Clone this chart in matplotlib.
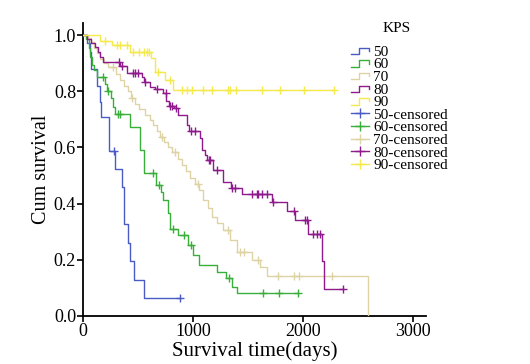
import numpy as np
import matplotlib
matplotlib.use("Agg")
import matplotlib.pyplot as plt
from matplotlib.lines import Line2D
from matplotlib.legend_handler import HandlerBase

plt.rcParams['font.family'] = ['Liberation Serif', 'DejaVu Serif']

# ---------------- data ----------------
groups = ["50", "60", "70", "80", "90"]
colors = ["#4a5cc4", "#3aae3a", "#ddd3a4", "#8e1a8c", "#f5ea4c"]

t50 = [40, 60, 75, 130, 150, 164, 236, 294, 355, 370, 406, 425, 466, 557]
s50 = [0.97, 0.94, 0.88, 0.82, 0.76, 0.708, 0.588, 0.523, 0.458, 0.327, 0.261, 0.196, 0.128, 0.063]
c50 = [282, 882]

t60 = [25, 50, 65, 80, 100, 130, 200, 215, 250, 270, 290, 427, 518, 555, 664, 709, 730,
       775, 791, 866, 957, 1003, 1057, 1215, 1297, 1352, 1397]
s60 = [0.985, 0.955, 0.92, 0.895, 0.875, 0.85, 0.825, 0.80, 0.775, 0.745, 0.72, 0.674, 0.59,
       0.51, 0.466, 0.44, 0.413, 0.367, 0.31, 0.288, 0.253, 0.217, 0.181, 0.157, 0.137, 0.104, 0.081]
c60 = [182, 227, 318, 336, 639, 694, 821, 921, 982, 1327, 1639, 1784, 1957]

t70 = [45, 73, 100, 127, 155, 191, 227, 300, 336, 373, 409, 436, 473, 509, 564, 609, 636, 673,
       700, 736, 775, 809, 864, 897, 936, 973, 1018, 1057, 1094, 1139, 1170, 1218, 1275, 1336,
       1397, 1533, 1609, 1670, 2593]
s70 = [0.99, 0.975, 0.955, 0.935, 0.915, 0.90, 0.885, 0.86, 0.84, 0.82, 0.80, 0.775, 0.755,
       0.735, 0.715, 0.698, 0.68, 0.66, 0.638, 0.62, 0.602, 0.585, 0.56, 0.537, 0.515, 0.49,
       0.47, 0.448, 0.413, 0.383, 0.353, 0.33, 0.306, 0.27, 0.229, 0.199, 0.175, 0.142, 0.0]
c70 = [275, 443, 718, 836, 1048, 1321, 1427, 1466, 1594, 1770, 1921, 1966, 2261]

t80 = [34, 73, 109, 136, 155, 185, 336, 397, 534, 555, 609, 654, 727, 755, 782, 827, 866, 943,
       964, 1064, 1082, 1109, 1127, 1185, 1275, 1345, 1443, 1715, 1852, 1927, 2048, 2170, 2191]
s80 = [0.985, 0.97, 0.958, 0.94, 0.923, 0.903, 0.888, 0.866, 0.851, 0.834, 0.816, 0.807,
       0.795, 0.765, 0.748, 0.739, 0.715, 0.68, 0.66, 0.632, 0.59, 0.573, 0.555, 0.52, 0.478,
       0.454, 0.434, 0.407, 0.372, 0.34, 0.292, 0.195, 0.096]
c80 = [330, 352, 455, 477, 500, 564, 670, 750, 791, 809, 845, 982, 1018, 1141, 1155, 1215,
       1352, 1382, 1533, 1584, 1594, 1624, 1670, 1727, 1918, 2018, 2036, 2094, 2124, 2150, 2363]

t90 = [155, 264, 430, 618, 655, 745, 821]
s90 = [0.977, 0.963, 0.94, 0.917, 0.87, 0.84, 0.805]
c90 = [203, 306, 339, 400, 457, 506, 552, 582, 600, 685, 791, 897, 943, 988, 1094, 1170,
       1321, 1336, 1391, 1624, 1791, 2009, 2282]

times = [t50, t60, t70, t80, t90]
survs = [s50, s60, s70, s80, s90]
cens = [c50, c60, c70, c80, c90]

xticks = [0, 1000, 2000, 3000]
yticks = [0.0, 0.2, 0.4, 0.6, 0.8, 1.0]

# ---------------- figure ----------------
W, H = 530, 364
fig = plt.figure(figsize=(W / 100, H / 100), dpi=100)
ax = fig.add_axes([83 / W, 1 - 316 / H, (426 - 83) / W, (316 - 23) / H])


def surv_at(t_ev, s_ev, t):
    t_ev = np.asarray(t_ev)
    idx = np.searchsorted(t_ev, t, side='right') - 1
    return 1.0 if idx < 0 else s_ev[idx]


line_handles = []
cens_handles = []
for g, col, te, se, ce in zip(groups, colors, times, survs, cens):
    xs = [0] + list(te)
    ys = [1.0] + list(se)
    last_c = max(ce) if ce else 0
    if last_c > xs[-1]:
        xs.append(last_c)
        ys.append(ys[-1])
    ln, = ax.step(xs, ys, where='post', color=col, lw=1.0, zorder=3)
    cy = [surv_at(te, se, c) for c in ce]
    ax.plot(ce, cy, linestyle='none', marker='+', color=col, ms=6, mew=1.0, zorder=4)
    line_handles.append(Line2D([], [], color=col, lw=1.0))
    cens_handles.append(Line2D([], [], color=col, lw=1.0, marker='+', ms=7, mew=1.0))

ax.set_xlim(0, 3118)
ax.set_ylim(0, (316 - 23) / 281)
ax.set_xticks(xticks)
ax.set_yticks(yticks)
ax.set_yticklabels([f"{v:.1f}" for v in yticks])
for s in ['top', 'right']:
    ax.spines[s].set_visible(False)
for s in ['left', 'bottom']:
    ax.spines[s].set_linewidth(1.3)
ax.tick_params(direction='out', length=4, width=1.2, labelsize=13, pad=1)
ax.set_xlabel("Survival time(days)", fontsize=15, labelpad=1)
ax.set_ylabel("Cum survival", fontsize=14.5, labelpad=2)


class StepHandler(HandlerBase):
    def create_artists(self, legend, orig_handle, xdescent, ydescent, width, height, fontsize, trans):
        x0 = -xdescent
        y0 = -ydescent
        xs = [x0, x0 + width * 0.45, x0 + width * 0.45, x0 + width, x0 + width]
        ys = [y0 + height * 0.15, y0 + height * 0.15, y0 + height * 0.75, y0 + height * 0.75, y0 + height * 0.45]
        l = Line2D(xs, ys, color=orig_handle.get_color(), lw=1.0, transform=trans)
        return [l]


handles = line_handles + cens_handles
labels = groups + [g + "-censored" for g in groups]
hmap = {h: StepHandler() for h in line_handles}
leg = fig.legend(handles, labels, loc='upper left', bbox_to_anchor=(351 / W, 1 - 45 / H),
                 frameon=False, fontsize=11, handlelength=1.2, handletextpad=0.25,
                 labelspacing=-0.07, borderpad=0, borderaxespad=0, handler_map=hmap)
fig.text(397 / W, 1 - 28 / H, "KPS", ha='center', va='center', fontsize=11)

fig.savefig("out.png", dpi=100)
